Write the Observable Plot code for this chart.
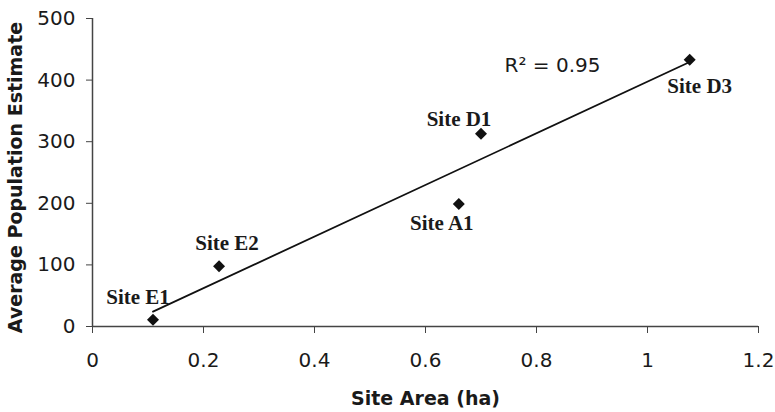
<!DOCTYPE html>
<html>
<head>
<meta charset="utf-8">
<script src="https://cdn.jsdelivr.net/npm/d3@7"></script>
<script src="https://cdn.jsdelivr.net/npm/@observablehq/plot@0.6"></script>
<style>
  html, body { margin: 0; padding: 0; background: #fff; }
</style>
</head>
<body>
<div id="chart"></div>
<script>
// Data
const sites = ["Site E1", "Site E2", "Site A1", "Site D1", "Site D3"];
const siteArea = [0.109, 0.228, 0.660, 0.700, 1.076];
const populationEstimate = [11, 98, 199, 313, 433];
const xTicks = [0, 0.2, 0.4, 0.6, 0.8, 1, 1.2];
const yTicks = [0, 100, 200, 300, 400, 500];
const rSquaredLabel = "R² = 0.95";
const xTitle = "Site Area (ha)";
const yTitle = "Average Population Estimate";

const data = sites.map((s, i) => ({site: s, area: siteArea[i], pop: populationEstimate[i]}));

// label offsets (style) per site
const labelOffsets = {
  "Site E1": [-15, -22],
  "Site E2": [8, -23],
  "Site A1": [-17, 19],
  "Site D1": [-22, -14],
  "Site D3": [10, 26]
};

const labelMarks = sites.map(s => Plot.text(data.filter(d => d.site === s), {
  x: "area", y: "pop", text: "site",
  dx: labelOffsets[s][0], dy: labelOffsets[s][1],
  fontFamily: "Liberation Serif", fontWeight: "bold", fontSize: 21,
  fill: "#1a1a1a", textAnchor: "middle", lineAnchor: "middle"
}));

const chart = Plot.plot({
  width: 775,
  height: 412,
  marginLeft: 92,
  marginRight: 17,
  marginTop: 18,
  marginBottom: 86,
  style: {fontFamily: "DejaVu Sans", fontSize: "20px", color: "#1a1a1a", background: "#fff"},
  x: {domain: [0, 1.2]},
  y: {domain: [0, 500]},
  marks: [
    Plot.axisX({ticks: xTicks, tickSize: 7, tickPadding: 19, label: null,
      tickFormat: d => String(+d.toFixed(1)), stroke: "#444", fill: "#1a1a1a"}),
    Plot.axisY({ticks: yTicks, tickSize: 6, tickPadding: 11, label: null,
      stroke: "#444", fill: "#1a1a1a"}),
    Plot.ruleX([0], {stroke: "#444", strokeWidth: 1.5}),
    Plot.ruleY([0], {stroke: "#444", strokeWidth: 1.5}),
    Plot.linearRegressionY(data, {x: "area", y: "pop", ci: 0, stroke: "#111", strokeWidth: 1.8}),
    Plot.dot(data, {x: "area", y: "pop", symbol: "diamond2", r: 5.4, fill: "#111", stroke: "none"}),
    ...labelMarks,
    Plot.text([rSquaredLabel], {frameAnchor: "top", text: d => d, dx: 127, dy: 47,
      fontFamily: "DejaVu Sans", fontSize: 20, fill: "#1a1a1a", textAnchor: "middle", lineAnchor: "middle"}),
    Plot.text([xTitle], {frameAnchor: "bottom", text: d => d, dy: 72,
      fontFamily: "DejaVu Sans", fontWeight: "bold", fontSize: 19, fill: "#1a1a1a",
      textAnchor: "middle", lineAnchor: "middle"}),
    Plot.text([yTitle], {frameAnchor: "left", text: d => d, dx: -77, dy: 5, rotate: -90,
      fontFamily: "DejaVu Sans", fontWeight: "bold", fontSize: 19, fill: "#1a1a1a",
      textAnchor: "middle", lineAnchor: "middle"})
  ]
});
document.getElementById("chart").appendChild(chart);
</script>
</body>
</html>
